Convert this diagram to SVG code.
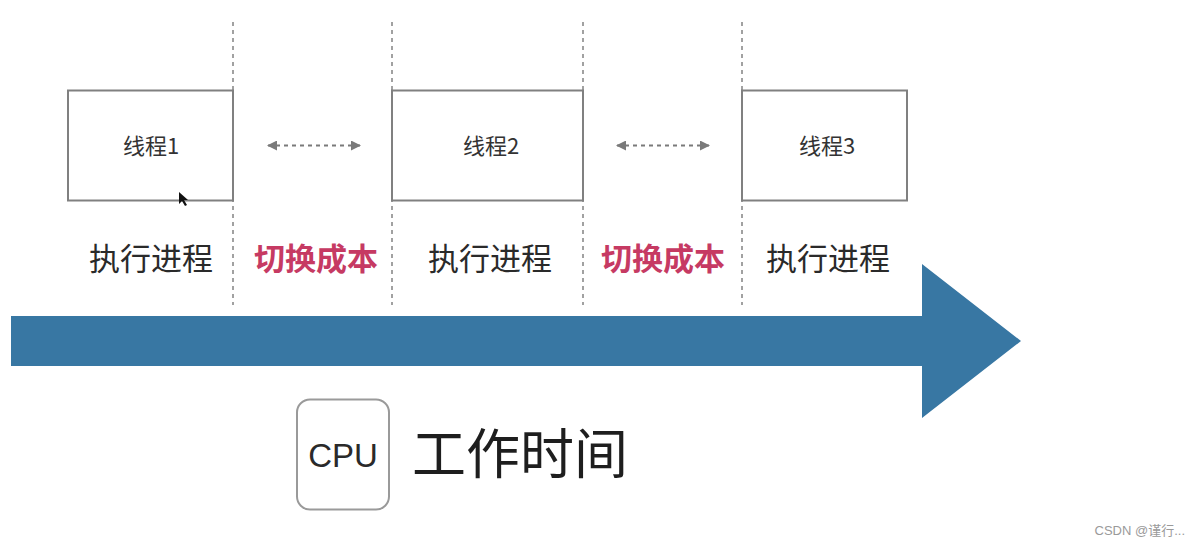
<svg xmlns="http://www.w3.org/2000/svg" width="1200" height="546" viewBox="0 0 1200 546">
<style>
.guide{stroke:#8a8a8a;stroke-width:1.6;stroke-dasharray:4 4;fill:none}
.box{fill:#fff;stroke:#808080;stroke-width:2}
.lbl{font-family:"Noto Sans CJK SC","Liberation Sans",sans-serif;fill:#333;text-anchor:middle}
.t{font-size:22px}
.run{font-size:31px;fill:#2a2a2a}
.cost{font-size:31px;font-weight:bold;fill:#c63a63}
.sw{stroke:#7a7a7a;stroke-width:2;stroke-dasharray:4 4;fill:none}
</style>
<defs>
<marker id="ah" viewBox="0 0 10 10" refX="9" refY="5" markerWidth="5" markerHeight="5" orient="auto-start-reverse" markerUnits="strokeWidth">
<path d="M0,0 L10,5 L0,10 z" fill="#7a7a7a"/>
</marker>
</defs>
<rect width="1200" height="546" fill="#fff"/>
<g id="guides">
<line class="guide" x1="233" y1="22" x2="233" y2="305"/>
<line class="guide" x1="392" y1="22" x2="392" y2="305"/>
<line class="guide" x1="583" y1="22" x2="583" y2="305"/>
<line class="guide" x1="742" y1="22" x2="742" y2="305"/>
</g>
<g id="thread1">
<rect class="box" x="68" y="90.5" width="165" height="110"/>
<text class="lbl t" x="151" y="154">线程1</text>
</g>
<g id="thread2">
<rect class="box" x="392" y="90.5" width="191" height="110"/>
<text class="lbl t" x="491" y="154">线程2</text>
</g>
<g id="thread3">
<rect class="box" x="742" y="90.5" width="165" height="110"/>
<text class="lbl t" x="827" y="154">线程3</text>
</g>
<g id="connectors">
<line class="sw" x1="268" y1="145.5" x2="360" y2="145.5" marker-start="url(#ah)" marker-end="url(#ah)"/>
<line class="sw" x1="617" y1="145.5" x2="709" y2="145.5" marker-start="url(#ah)" marker-end="url(#ah)"/>
</g>
<g id="labels">
<text class="lbl run" x="151" y="270">执行进程</text>
<text class="lbl cost" x="316" y="270">切换成本</text>
<text class="lbl run" x="490" y="270">执行进程</text>
<text class="lbl cost" x="663" y="270">切换成本</text>
<text class="lbl run" x="828" y="270">执行进程</text>
</g>
<g id="timeline">
<polygon points="11,316 922,316 922,264 1021,341 922,418 922,366 11,366" fill="#3877a3"/>
</g>
<g id="cpu">
<rect x="297" y="399.5" width="92" height="110" rx="13" fill="#fff" stroke="#9a9a9a" stroke-width="2"/>
<text x="343" y="467" font-family="'Liberation Sans',Arial,sans-serif" font-size="33" fill="#2a2a2a" text-anchor="middle">CPU</text>
</g>
<g id="worktime">
<text x="412" y="474" font-family="'Noto Sans CJK SC',sans-serif" font-size="54" fill="#1e1e1e">工作时间</text>
</g>
<polygon points="179,192 179,204 182,201 185,206 187,205 184,200 188,200" fill="#111"/>
<text x="1185" y="535" font-family="'Liberation Sans','Noto Sans CJK SC',sans-serif" font-size="13" fill="#9a9a9a" text-anchor="end">CSDN @谨行...</text>
</svg>
